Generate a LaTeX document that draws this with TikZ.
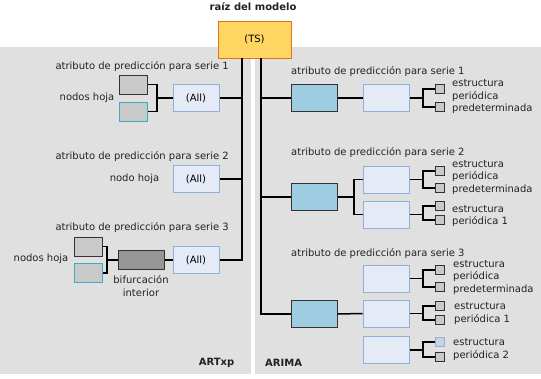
\documentclass[tikz,border=0pt]{standalone}
\usepackage{fontspec}
\setmainfont{DejaVu Sans}
\begin{document}
\begin{tikzpicture}[x=1pt,y=-1pt,
  font=\fontsize{10}{12.5}\selectfont,
  conn/.style={line width=1.5pt,black},
  box/.style={rectangle,inner sep=0pt,line width=1pt},
  rootbox/.style={box,fill=rootfill,draw=rootdraw,minimum width=73pt,minimum height=37pt},
  allbox/.style={box,fill=allfill,draw=alldraw,minimum width=46pt,minimum height=27pt},
  leafbox/.style={box,fill=leaffill,draw=darkline,minimum width=28pt,minimum height=19pt},
  leafcyan/.style={box,fill=leaffill,draw=cyanline,minimum width=28pt,minimum height=19pt},
  innerbox/.style={box,fill=innerfill,draw=darkline,minimum width=46pt,minimum height=19pt},
  bluebox/.style={box,fill=bluefill,draw=darkline,minimum width=46pt,minimum height=27pt},
  smallbox/.style={box,fill=leaffill,draw=darkline,minimum width=9pt,minimum height=9pt},
  smallblue/.style={box,fill=smallbluefill,draw=alldraw,minimum width=9pt,minimum height=9pt},
  lbl/.style={inner sep=0pt,text=textcol},
  multi/.style={lbl,anchor=west,align=left},
  panel/.style={fill=panelfill,draw=none}
]
\definecolor{rootfill}{HTML}{FFD662}
\definecolor{rootdraw}{HTML}{E2711D}
\definecolor{allfill}{HTML}{E4EAF6}
\definecolor{alldraw}{HTML}{92AEDA}
\definecolor{leaffill}{HTML}{C9C9C9}
\definecolor{darkline}{HTML}{333333}
\definecolor{cyanline}{HTML}{3FA9D0}
\definecolor{innerfill}{HTML}{969696}
\definecolor{bluefill}{HTML}{9ECDE2}
\definecolor{smallbluefill}{HTML}{C6D4E4}
\definecolor{panelfill}{HTML}{E0E0E0}
\definecolor{textcol}{HTML}{222222}

\useasboundingbox (0,0) rectangle (541,378);
\fill[white] (0,0) rectangle (541,378);
\path[panel] (0,47) rectangle (250.5,374);
\path[panel] (254.5,47) rectangle (541,374);

% root
\node[lbl,font=\fontsize{10}{12}\selectfont\bfseries] (title) at (253,7) {raíz del modelo};
\node[rootbox] (ts) at (254.5,39.5) {(TS)};
\coordinate (tl) at (242,58);
\coordinate (tr) at (261,58);

% ===== ARTxp =====
\node[lbl,anchor=east] (s1l) at (229,67) {atributo de predicción para serie 1};
\node[leafbox] (l1a) at (133.5,84.5) {};
\node[leafcyan] (l1b) at (133.5,111.5) {};
\node[allbox] (all1) at (196,98) {(All)};
\node[lbl] (nh1) at (87,98) {nodos hoja};
\coordinate (j1) at (157,98);

\node[lbl,anchor=east] (s2l) at (229,157) {atributo de predicción para serie 2};
\node[allbox] (all2) at (196,179) {(All)};
\node[lbl] (nh2) at (134.5,179) {nodo hoja};

\node[lbl,anchor=east] (s3l) at (229,228) {atributo de predicción para serie 3};
\node[leafbox] (l3a) at (88,246.5) {};
\node[leafcyan] (l3b) at (88,273) {};
\node[innerbox] (in3) at (141,260) {};
\node[allbox] (all3) at (196,260) {(All)};
\node[lbl] (nh3) at (41,259) {nodos hoja};
\node[lbl,align=center] (bif) at (141,286) {bifurcación\\interior};
\coordinate (j3) at (107,260);

\node[lbl,anchor=east,font=\fontsize{10}{12}\selectfont\bfseries] (artxp) at (234.5,363) {ARTxp};

\draw[conn] (l1a.east) -| (j1) |- (l1b.east);
\draw[conn] (j1) -- (all1.west);
\draw[conn] (l3a.east) -| (j3) |- (l3b.east);
\draw[conn] (j3) -- (in3.west);
\draw[conn] (in3.east) -- (all3.west);
\draw[conn] (tl) |- (all3.east);
\draw[conn] (all1.east) -- (all1.east -| tl);
\draw[conn] (all2.east) -- (all2.east -| tl);

% ===== ARIMA =====
\node[lbl,anchor=west] (r1l) at (291,72) {atributo de predicción para serie 1};
\node[bluebox] (b1) at (314,98) {};
\node[allbox] (p1) at (386,98) {};
\node[smallbox] (q1a) at (439.5,89) {};
\node[smallbox] (q1b) at (439.5,107) {};
\node[multi] (t1) at (452,97) {estructura\\periódica\\predeterminada};

\node[lbl,anchor=west] (r2l) at (291,153) {atributo de predicción para serie 2};
\node[bluebox] (b2) at (314,197) {};
\node[allbox] (p2a) at (386,179.5) {};
\node[allbox] (p2b) at (386,214.5) {};
\node[smallbox] (q2a) at (439.5,171) {};
\node[smallbox] (q2b) at (439.5,188) {};
\node[smallbox] (q2c) at (439.5,206) {};
\node[smallbox] (q2d) at (439.5,220) {};
\node[multi] (t2a) at (452,177.5) {estructura\\periódica\\predeterminada};
\node[multi] (t2b) at (452,216) {estructura\\periódica 1};

\node[lbl,anchor=west] (r3l) at (291,254) {atributo de predicción para serie 3};
\node[bluebox] (b3) at (314,314) {};
\node[allbox] (p3a) at (386,278.5) {};
\node[allbox] (p3b) at (386,313.5) {};
\node[allbox] (p3c) at (386,350) {};
\node[smallbox] (q3a) at (439.5,270) {};
\node[smallbox] (q3b) at (439.5,287) {};
\node[smallbox] (q3c) at (439.5,306) {};
\node[smallbox] (q3d) at (439.5,320) {};
\node[smallblue] (q3e) at (439.5,342) {};
\node[smallbox] (q3f) at (439.5,357) {};
\node[multi] (t3a) at (453,277.5) {estructura\\periódica\\predeterminada};
\node[multi] (t3b) at (454,313.5) {estructura\\periódica 1};
\node[multi] (t3c) at (453,349.5) {estructura\\periódica 2};

\node[lbl,anchor=west,font=\fontsize{10}{12}\selectfont\bfseries] (arima) at (265,363) {ARIMA};

\draw[conn] (tr) |- (b3.west);
\draw[conn] (b1.west) -- (b1.west -| tr);
\draw[conn] (b2.west) -- (b2.west -| tr);
\draw[conn] (b1.east) -- (p1.west);
\draw[conn] (b3.east) -- (p3b.west);
\coordinate (j2) at (354,197);
\draw[conn] (b2.east) -- (j2);
\draw[conn] (p2a.west) -| (j2) |- (p2b.west);

\foreach \p/\a/\b in {p1/q1a/q1b, p2a/q2a/q2b, p2b/q2c/q2d, p3a/q3a/q3b, p3b/q3c/q3d, p3c/q3e/q3f}{
  \draw[conn] (\p.east) -- (\p.east -| 423,0);
  \draw[conn] (\a.west) -| (423,0 |- \p.east) |- (\b.west);
}
\end{tikzpicture}
\end{document}
